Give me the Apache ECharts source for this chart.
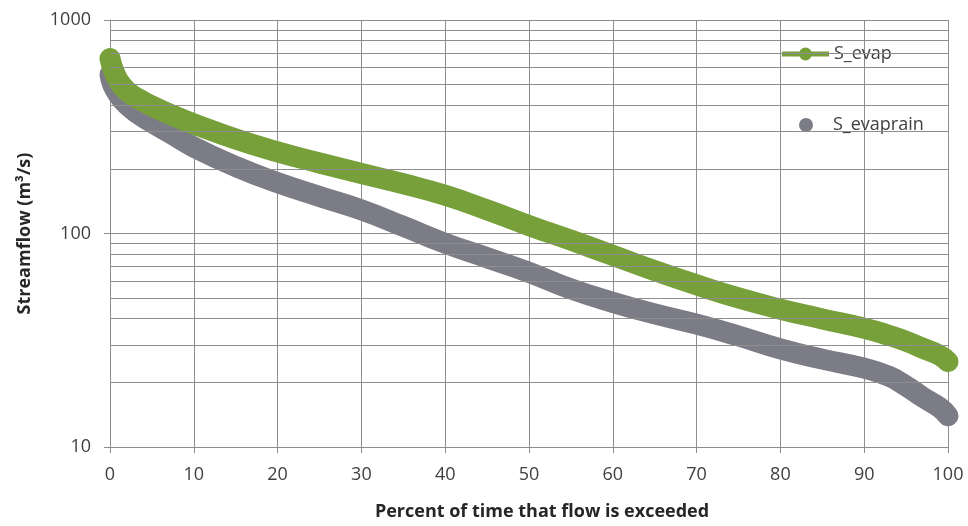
<!DOCTYPE html>
<html>
<head>
<meta charset="utf-8">
<script src="https://cdn.jsdelivr.net/npm/echarts@6/dist/echarts.min.js"></script>
<style>html,body{margin:0;padding:0;background:#fff;}#c{width:968px;height:526px;}</style>
</head>
<body>
<div id="c"></div>
<script>
// Percent of time that flow is exceeded
const pct = [0, 0.3, 1, 2, 3.5, 5, 7.5, 10, 15, 20, 25, 30, 35, 40, 45, 50, 55, 60, 65, 70, 75, 80, 85, 90, 93, 95, 97, 99, 100];
// Streamflow (m3/s)
const sEvap = [660, 600, 520, 466, 425, 396, 357, 326, 277, 241, 214, 191, 171, 151, 129, 109, 93, 79, 67, 57.5, 49.9, 44.2, 39.8, 36, 33.3, 31.3, 29, 26.9, 25.1];
const sEvaprain = [555, 500, 446, 401, 360, 331, 290, 254, 206, 173, 149, 129, 108, 90, 77, 65.8, 55, 47.6, 42, 37.6, 33.1, 28.8, 25.8, 23.4, 21.4, 19.3, 17.1, 15.3, 14];
const seriesNames = ['S_evap', 'S_evaprain'];
// Log-axis minor grid values
const minorGrid = [20, 30, 40, 50, 60, 70, 80, 90, 200, 300, 400, 500, 600, 700, 800, 900];

const GREEN = '#77a03b';
const GRAY = '#7c7c87';
const GRID = '#8e8e8e';
const FONT = 'Open Sans';

const chart = echarts.init(document.getElementById('c'), null, {renderer: 'canvas'});
const zip = (xs, ys) => xs.map((x, i) => [x, ys[i]]);

chart.setOption({
  animation: false,
  backgroundColor: '#ffffff',
  grid: {left: 110, right: 20, top: 20, bottom: 78},
  legend: [
    {
      data: [seriesNames[0]], left: 782, top: 45, padding: 0,
      icon: 'path://M0,4H47V9H0Z M23.5,0A6.5,6.5 0 1,1 23.5,13A6.5,6.5 0 1,1 23.5,0Z',
      itemWidth: 47, itemHeight: 13,
      textStyle: {fontFamily: FONT, fontSize: 18, color: '#404040'}
    },
    {
      data: [seriesNames[1]], left: 799, top: 116, padding: 0,
      icon: 'circle', itemWidth: 14, itemHeight: 14,
      formatter: name => '{g|}' + name,
      textStyle: {fontFamily: FONT, fontSize: 18, color: '#404040',
        rich: {g: {width: 15}}}
    }
  ],
  xAxis: {
    type: 'value', min: 0, max: 100, interval: 10,
    name: 'Percent of time that flow is exceeded', nameLocation: 'middle', nameGap: 56,
    nameTextStyle: {fontFamily: FONT, fontSize: 18, fontWeight: 'bold', color: '#262626',
      padding: [0, 0, 0, 26]},
    axisLine: {show: true, lineStyle: {color: GRID, width: 1}},
    axisTick: {show: true, length: 6, lineStyle: {color: GRID}},
    axisLabel: {fontFamily: FONT, fontSize: 18, color: '#404040', margin: 19},
    splitLine: {show: true, lineStyle: {color: GRID, width: 1}}
  },
  yAxis: {
    type: 'log', logBase: 10, min: 10, max: 1000,
    name: 'Streamflow (m³/s)', nameLocation: 'middle', nameGap: 76,
    nameTextStyle: {fontFamily: FONT, fontSize: 18, fontWeight: 'bold', color: '#262626'},
    axisLine: {show: true, lineStyle: {color: GRID, width: 1}},
    axisTick: {show: true, length: 6, lineStyle: {color: GRID}},
    axisLabel: {fontFamily: FONT, fontSize: 18, color: '#404040', margin: 19,
      formatter: v => String(Math.round(v))},
    splitLine: {show: true, lineStyle: {color: GRID, width: 1}}
  },
  series: [
    {
      name: 'minor-grid', type: 'line', data: [], z: 1, silent: true,
      markLine: {
        silent: true, symbol: ['none', 'none'], animation: false,
        label: {show: false},
        lineStyle: {color: GRID, width: 1, type: 'solid'},
        data: minorGrid.map(v => ({yAxis: v}))
      }
    },
    {
      name: seriesNames[1], type: 'line', smooth: 0.5, showSymbol: false, z: 3,
      data: zip(pct, sEvaprain),
      itemStyle: {color: GRAY},
      lineStyle: {color: GRAY, width: 21, cap: 'round', join: 'round'}
    },
    {
      name: seriesNames[0], type: 'line', smooth: 0.5, showSymbol: false, z: 4,
      data: zip(pct, sEvap),
      itemStyle: {color: GREEN},
      lineStyle: {color: GREEN, width: 21, cap: 'round', join: 'round'}
    }
  ]
});
</script>
</body>
</html>
